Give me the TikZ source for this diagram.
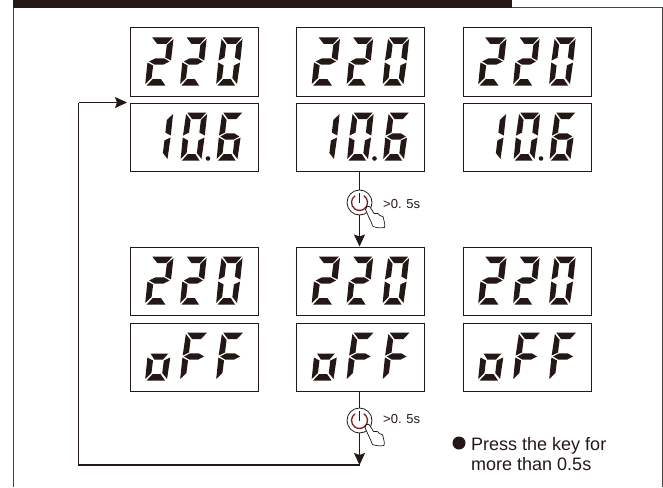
\documentclass[tikz,border=0pt]{standalone}
\usepackage{fontspec}
\setmainfont{Liberation Sans}
\usetikzlibrary{arrows.meta}
\definecolor{ink}{HTML}{231815}
\definecolor{framec}{HTML}{4A4240}
\definecolor{keyred}{HTML}{7A1F24}
\newcommand\sega{\fill (1.5,48)--(20.5,48)--(15.5,41.5)--(7,41.5)--cycle;}
\newcommand\segb{\fill (21.5,46.5)--(21.8,25)--(16,28)--(16,40.5)--cycle;}
\newcommand\segc{\fill (21.8,23)--(16,20)--(16,7.5)--(21.3,1.5)--cycle;}
\newcommand\segd{\fill (2,0)--(7,6.5)--(14.5,6.5)--(19.5,0)--cycle;}
\newcommand\sege{\fill (0,23)--(5.7,20)--(5.7,7.5)--(0.5,1.5)--cycle;}
\newcommand\segf{\fill (0.5,46.5)--(5.7,40.5)--(5.7,28)--(0,25)--cycle;}
\newcommand\segg{\fill (1.5,24)--(7,27.2)--(15,27.2)--(20.5,24)--(15,20.8)--(7,20.8)--cycle;}
\newcommand\segh{\fill (2.5,27)--(19.5,27)--(15,20.8)--(7,20.8)--cycle;}
\newcommand\digitat[4]{\begin{scope}[shift={(#1,#2)},y=1pt,xscale=#3,xslant=0.12]
  \foreach \s in {#4}{\csname seg\s\endcsname}\end{scope}}
\newcommand\reada[2]{\digitat{#1+15}{#2+58}{1.07}{a,b,g,e,d}\digitat{#1+50}{#2+58}{1}{a,b,g,e,d}\digitat{#1+86}{#2+58}{1}{a,b,c,d,e,f}}
\newcommand\readb[2]{\digitat{#1+16.5}{#2+58}{1}{b,c}\digitat{#1+50.5}{#2+58}{1}{a,b,c,d,e,f}\fill (#1+78.5,#2+56) circle (2.3);\digitat{#1+86.5}{#2+58}{1}{a,f,g,e,d,c}}
\newcommand\readc[2]{\digitat{#1+15}{#2+58}{1.05}{h,c,d,e}\digitat{#1+50}{#2+58}{1.05}{a,f,g,e}\digitat{#1+86}{#2+58}{1.05}{a,f,g,e}}
\newcommand\handat[2]{\begin{scope}[shift={(#1,#2)}]
  \draw[ink,fill=white,line width=.7pt,line join=round] (7,4) .. controls (9,3) and (10,4) .. (11,6) -- (14,11) .. controls (17,10) and (19,11) .. (20,13) .. controls (23,13) and (24,15) .. (24,18) .. controls (25,21) and (25,23) .. (24.5,25) .. controls (20,26) and (16,25) .. (13,24) .. controls (11,20) and (11,18) .. (9,15) -- (5.5,7) -- cycle;
  \end{scope}}
\tikzset{
  panel/.style={draw=ink,line width=.9pt,minimum width=128pt,minimum height=68pt,inner sep=0pt,anchor=north west},
  keyb/.style={circle,draw=ink,fill=white,line width=.8pt,minimum size=25pt,inner sep=0pt},
  flow/.style={ink,line width=1.2pt},
  flowarr/.style={ink,line width=.8pt,-{Stealth[length=12pt,width=11pt,inset=2pt]}},
  note/.style={font=\fontsize{13}{13}\selectfont,text=ink,inner sep=0pt,anchor=base west},
  txt/.style={font=\fontsize{18}{18}\selectfont,text=ink,inner sep=0pt,anchor=base west}
}
\begin{document}
\begin{tikzpicture}[x=1pt,y=-1pt]
\useasboundingbox (0,0) rectangle (663,487);
\fill[white] (0,0) rectangle (663,487);
% frame
\draw[framec,line width=1pt] (13,487) -- (13,8) -- (662,8) -- (662,487);
\fill[ink] (12.5,0) rectangle (512,8.5);
% panels
\foreach \n/\x in {1/129.5,2/296,3/462.5}{
  \node[panel] (a\n) at (\x,27.5) {};
  \node[panel] (b\n) at (\x,102.5) {};
  \node[panel] (c\n) at (\x,246.5) {};
  \node[panel] (d\n) at (\x,322.5) {};
}
% digits
\begin{scope}[ink]
\foreach \x in {129.5,296,462.5}{
  \reada{\x}{27.5}
  \readb{\x}{102.5}
  \reada{\x}{246.5}
  \readc{\x}{322.5}
}
\end{scope}
% connectors
\coordinate (k1c) at (359.5,202.5);
\coordinate (k2c) at (359.5,420.5);
\coordinate (corner) at (359.5,465);
\coordinate (cl) at (78.5,465);
\coordinate (tip) at (127,102.5);
\node[keyb] (k1) at (k1c) {};
\node[keyb] (k2) at (k2c) {};
\draw[flow] (b2.south -| k1) -- (k1);
\draw[flowarr] (k1) -- (c2.north -| k1);
\draw[flow] (d2.south -| k2) -- (k2);
\draw[flowarr] (k2) -- (corner);
\draw[flow] (corner) -- (cl) -- (cl |- tip);
\draw[flowarr] (cl |- tip) -- (tip);
% power symbols
\foreach \k in {k1,k2}{
  \draw[keyred,line width=1.3pt,line cap=round] ([shift={(-55:8)}]\k.center) arc[start angle=-55,end angle=235,radius=8];
  \draw[ink,line width=1.3pt,line cap=round] ([yshift=9]\k.center) -- ([yshift=0]\k.center);
}
\handat{360}{202.5}
\handat{359.5}{420.5}
% labels
\node[note] (t1) at (383,208) {>0. 5s};
\node[note] (t2) at (383,423) {>0. 5s};
\node[circle,fill=ink,minimum size=13pt,inner sep=0pt] (bul) at (459,443) {};
\node[txt] (l1) at (471,450) {Press the key for};
\node[txt] (l2) at (471,470) {more than 0.5s};
\end{tikzpicture}
\end{document}
